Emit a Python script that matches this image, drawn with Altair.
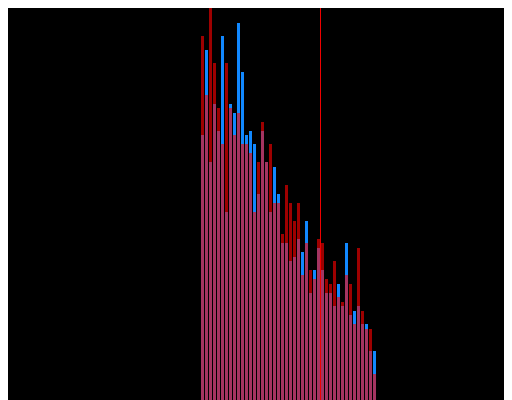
import altair as alt
import pandas as pd

# bin starts (unit-width bins)
bin_start = list(range(44))
# counts per bin, two series
red_counts = [364, 305, 400, 337, 292, 256, 337, 292, 265, 287, 256, 256, 247, 188, 238,
              278, 238, 256, 197, 197, 166, 215, 197, 179, 197, 125, 157, 130, 121, 161,
              157, 121, 116, 139, 103, 98, 125, 116, 76, 152, 89, 71, 71, 26]
blue_counts = [265, 350, 238, 296, 269, 364, 188, 296, 287, 377, 328, 265, 269, 256, 206,
               269, 238, 188, 233, 206, 157, 157, 139, 143, 161, 148, 179, 107, 130, 152,
               130, 107, 107, 94, 116, 94, 157, 85, 89, 94, 76, 76, 49, 49]
threshold = [29.875]

df_blue = pd.DataFrame({"start": bin_start, "end": [b + 1 for b in bin_start], "count": blue_counts})
df_red = pd.DataFrame({"start": bin_start, "end": [b + 1 for b in bin_start], "count": red_counts})
df_line = pd.DataFrame({"x": threshold})

xs = alt.Scale(domain=[-48.25, 75.75], nice=False, zero=False)
ys = alt.Scale(domain=[0, 392], nice=False)

blue = alt.Chart(df_blue).mark_bar(color="#1188ff", x2Offset=-1).encode(
    x=alt.X("start:Q", scale=xs, axis=None),
    x2="end:Q",
    y=alt.Y("count:Q", scale=ys, axis=None),
    y2=alt.datum(0),
)
red = alt.Chart(df_red).mark_bar(color="#ff0000", opacity=0.62, x2Offset=-1).encode(
    x=alt.X("start:Q", scale=xs, axis=None),
    x2="end:Q",
    y=alt.Y("count:Q", scale=ys, axis=None),
    y2=alt.datum(0),
)
rule = alt.Chart(df_line).mark_rule(color="#f00000", strokeWidth=1).encode(
    x=alt.X("x:Q", scale=xs, axis=None),
)

chart = alt.layer(blue, red, rule).properties(
    width=496, height=392,
    autosize=alt.AutoSizeParams(type="none"),
    padding=0,
    background="black",
).configure_view(stroke=None)

chart.save("out.html", embed_options={"renderer": "svg", "actions": False})
